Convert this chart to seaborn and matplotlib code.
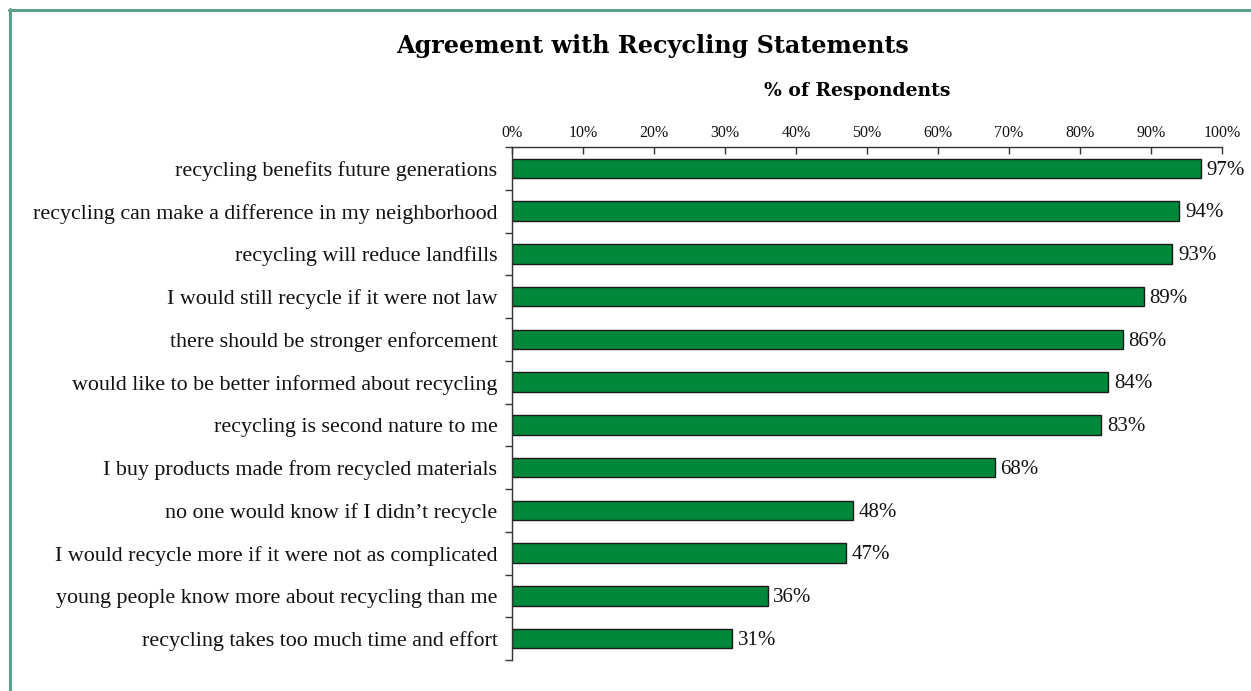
import matplotlib
matplotlib.use("Agg")
import matplotlib.pyplot as plt
import seaborn as sns
import pandas as pd
import numpy as np
from matplotlib.lines import Line2D
from matplotlib.ticker import FixedLocator, PercentFormatter

statements = [
    "recycling benefits future generations",
    "recycling can make a difference in my neighborhood",
    "recycling will reduce landfills",
    "I would still recycle if it were not law",
    "there should be stronger enforcement",
    "would like to be better informed about recycling",
    "recycling is second nature to me",
    "I buy products made from recycled materials",
    "no one would know if I didn\u2019t recycle",
    "I would recycle more if it were not as complicated",
    "young people know more about recycling than me",
    "recycling takes too much time and effort",
]
percent_agree = [97, 94, 93, 89, 86, 84, 83, 68, 48, 47, 36, 31]
x_ticks = [0, 10, 20, 30, 40, 50, 60, 70, 80, 90, 100]

df = pd.DataFrame({"statement": statements, "pct": percent_agree})

sns.set_theme(style="white")
plt.rcParams["font.family"] = ["Liberation Serif", "DejaVu Serif"]
for key in ["text.color", "axes.labelcolor", "xtick.color", "ytick.color"]:
    plt.rcParams[key] = "#111111"

W, H = 1251, 691
fig = plt.figure(figsize=(W / 100, H / 100), dpi=100)
ax = fig.add_axes([512 / W, 1 - 660 / H, (1222 - 512) / W, (660 - 147) / H])

sns.barplot(data=df, x="pct", y="statement", orient="h", color="#00883A",
            saturation=1, edgecolor="#1a1a1a", linewidth=1.0, width=0.46, ax=ax)

ax.set_xlim(0, 100)
ax.set_ylim(11.5, -0.5)
ax.xaxis.tick_top()
ax.set_xticks(x_ticks)
ax.xaxis.set_major_formatter(PercentFormatter(decimals=0))
ax.tick_params(axis="x", which="major", direction="in", length=5, width=1,
               color="#333333", labelsize=11.5, pad=4, top=True, bottom=False)
ax.set_xlabel("")
ax.set_ylabel("")

# category labels sit on major ticks without marks; boundaries get small outward ticks
ax.tick_params(axis="y", which="major", length=0, labelsize=15.8, pad=10.5)
ax.yaxis.set_minor_locator(FixedLocator(np.arange(-0.5, 12, 1.0)))
ax.tick_params(axis="y", which="minor", direction="out", length=5, width=1,
               color="#333333", left=True)

for s in ["right", "bottom"]:
    ax.spines[s].set_visible(False)
for s in ["top", "left"]:
    ax.spines[s].set_color("#333333")
    ax.spines[s].set_linewidth(1.0)

for i, v in enumerate(percent_agree):
    ax.text(v + 0.8, i + 0.04, f"{v}%", va="center", ha="left", fontsize=15,
            color="#111111")

fig.text(652 / W, 1 - 46 / H, "Agreement with Recycling Statements",
         ha="center", va="center", fontsize=17.2, fontweight="bold",
         family=["DejaVu Serif"], color="black")
fig.text(857 / W, 1 - 91 / H, "% of Respondents", ha="center", va="center",
         fontsize=13.5, fontweight="bold", family=["DejaVu Serif"], color="black")

# frame lines along the top and left edges
frame_color = "#5BA08A"
fig.add_artist(Line2D([10 / W, 10 / W], [0, 1 - 9 / H], transform=fig.transFigure,
                      color=frame_color, linewidth=2.2))
fig.add_artist(Line2D([9 / W, 1], [1 - 9.5 / H, 1 - 9.5 / H], transform=fig.transFigure,
                      color=frame_color, linewidth=2.2))

fig.savefig("out.png", dpi=100, facecolor="white")
